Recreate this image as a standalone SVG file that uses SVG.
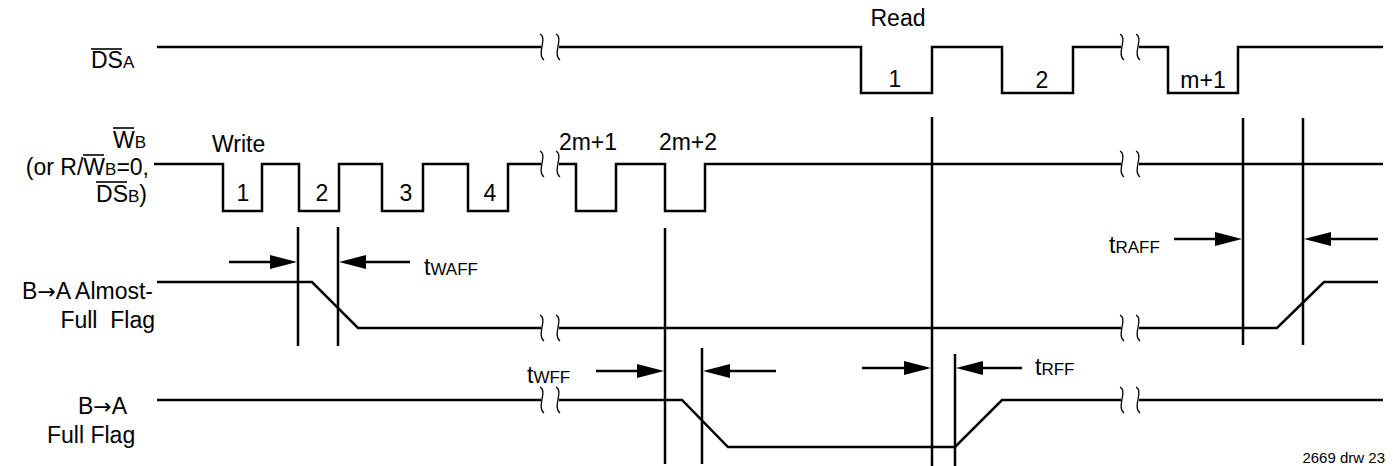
<svg xmlns="http://www.w3.org/2000/svg" width="1397" height="466" viewBox="0 0 1397 466">
<style>
.w{fill:none;stroke:#000;stroke-width:2.5;stroke-linejoin:miter}
.v{stroke:#000;stroke-width:2.5}
.a{stroke:#000;stroke-width:2.5}
.ah{fill:#000}
.ol{stroke:#000;stroke-width:1.6}
.brk{fill:none;stroke:#000;stroke-width:1.3}
text{font-family:"Liberation Sans",Arial,sans-serif;font-size:23px;fill:#000}
.s{font-size:17px}
.ar{font-family:"DejaVu Sans",sans-serif;font-size:22px;font-weight:normal}
.sm{font-size:15px}
</style>
<defs>
<g id="brk">
<rect x="-9" y="-3" width="18" height="6" fill="#fff"/>
<path class="brk" d="M-10,-13 C-2,-9 -14,7 -6,13"/>
<path class="brk" d="M6,-13 C14,-9 2,7 10,13"/>
</g>
<path id="hr" class="ah" d="M0,0 L-27,-7 L-27,7 Z"/>
<path id="hl" class="ah" d="M0,0 L27,-7 L27,7 Z"/>
</defs>

<g id="labels">
<g id="lbl-dsa">
<text x="91" y="68">DS<tspan class="s">A</tspan></text>
<line class="ol" x1="91" y1="49" x2="122" y2="49"/>
</g>
<g id="lbl-wb">
<text x="146" y="148" text-anchor="end">W<tspan class="s">B</tspan></text>
<line class="ol" x1="113" y1="128" x2="134" y2="128"/>
<text x="149" y="175" text-anchor="end">(or R/W<tspan class="s">B</tspan>=0,</text>
<line class="ol" x1="83" y1="155" x2="104" y2="155"/>
<text x="147" y="202" text-anchor="end">DS<tspan class="s">B</tspan>)</text>
<line class="ol" x1="96" y1="182" x2="127" y2="182"/>
</g>
<g id="lbl-af">
<text x="153" y="299" text-anchor="end">B<tspan class="ar">→</tspan>A Almost-</text>
<text x="155" y="328" text-anchor="end">Full&#160; Flag</text>
</g>
<g id="lbl-ff">
<text x="78" y="414">B<tspan class="ar">→</tspan>A</text>
<text x="47" y="443">Full Flag</text>
</g>
</g>

<g id="connectors">
<g id="sig-dsa">
<path class="w" d="M157,47 H861 V93 H932 V47 H1002 V93 H1073 V47 H1168 V93 H1238 V47 H1383"/>
<use href="#brk" x="550" y="47"/>
<use href="#brk" x="1130" y="47"/>
</g>
<g id="sig-wb">
<path class="w" d="M154,164 H223 V211 H262 V164 H299 V211 H339 V164 H382 V211 H423 V164 H468 V211 H508 V164 H576 V211 H616 V164 H665 V211 H705 V164 H1383"/>
<use href="#brk" x="550" y="164"/>
<use href="#brk" x="1130" y="164"/>
</g>
<g id="sig-af">
<path class="w" d="M157,282 H312 L358,328 H1277 L1324,282 H1378"/>
<use href="#brk" x="550" y="328"/>
<use href="#brk" x="1130" y="328"/>
</g>
<g id="sig-ff">
<path class="w" d="M157,400 H682 L728,447 H955 L1002,400 H1383"/>
<use href="#brk" x="550" y="400"/>
<use href="#brk" x="1130" y="400"/>
</g>
<g id="refs">
<line class="v" x1="298" y1="227" x2="298" y2="346"/>
<line class="v" x1="338" y1="227" x2="338" y2="346"/>
<line class="v" x1="665" y1="228" x2="665" y2="464"/>
<line class="v" x1="702" y1="348" x2="702" y2="464"/>
<line class="v" x1="932" y1="117" x2="932" y2="466"/>
<line class="v" x1="955" y1="354" x2="955" y2="466"/>
<line class="v" x1="1243" y1="118" x2="1243" y2="345"/>
<line class="v" x1="1303" y1="118" x2="1303" y2="345"/>
</g>
<g id="arrows">
<line class="a" x1="229" y1="262" x2="280" y2="262"/><use href="#hr" x="297" y="262"/>
<line class="a" x1="410" y1="262" x2="356" y2="262"/><use href="#hl" x="339" y="262"/>
<line class="a" x1="596" y1="371" x2="647" y2="371"/><use href="#hr" x="664" y="371"/>
<line class="a" x1="776" y1="371" x2="720" y2="371"/><use href="#hl" x="703" y="371"/>
<line class="a" x1="862" y1="368" x2="914" y2="368"/><use href="#hr" x="931" y="368"/>
<line class="a" x1="1022" y1="368" x2="973" y2="368"/><use href="#hl" x="956" y="368"/>
<line class="a" x1="1174" y1="239" x2="1225" y2="239"/><use href="#hr" x="1242" y="239"/>
<line class="a" x1="1378" y1="239" x2="1321" y2="239"/><use href="#hl" x="1304" y="239"/>
</g>
</g>

<g id="annotations">
<text x="898" y="26" text-anchor="middle">Read</text>
<text x="895" y="87" text-anchor="middle">1</text>
<text x="1042" y="88" text-anchor="middle">2</text>
<text x="1203" y="88" text-anchor="middle">m+1</text>
<text x="212" y="152">Write</text>
<text x="243" y="201" text-anchor="middle">1</text>
<text x="322" y="201" text-anchor="middle">2</text>
<text x="406" y="201" text-anchor="middle">3</text>
<text x="490" y="201" text-anchor="middle">4</text>
<text x="588" y="150" text-anchor="middle">2m+1</text>
<text x="688" y="150" text-anchor="middle">2m+2</text>
<text x="424" y="275">t<tspan class="s">WAFF</tspan></text>
<text x="527" y="383">t<tspan class="s">WFF</tspan></text>
<text x="1035" y="375">t<tspan class="s">RFF</tspan></text>
<text x="1109" y="253">t<tspan class="s">RAFF</tspan></text>
<text class="sm" x="1385" y="463" text-anchor="end">2669 drw 23</text>
</g>
</svg>
